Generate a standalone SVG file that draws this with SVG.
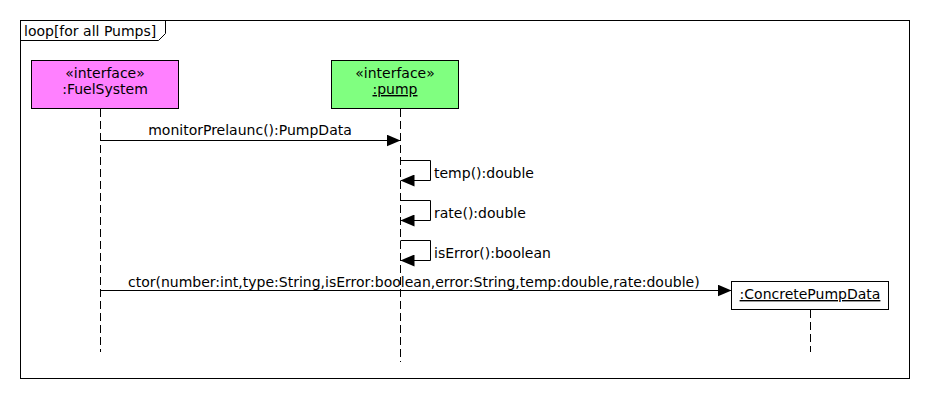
<svg xmlns="http://www.w3.org/2000/svg" width="930" height="400" viewBox="0 0 930 400">
<style>
text{font-family:"DejaVu Sans",sans-serif;font-size:14px;fill:#000}
.c{text-anchor:middle}
.box{stroke:#000;stroke-width:1}
.life{stroke:#000;stroke-width:1;stroke-dasharray:8,4;fill:none}
.msg{stroke:#000;stroke-width:1;fill:none}
</style>
<defs>
<marker id="ah" viewBox="0 0 14 12" refX="14" refY="6" markerWidth="14" markerHeight="12" markerUnits="userSpaceOnUse" orient="auto">
<path d="M0,0 L14,6 L0,12 Z" fill="#000"/>
</marker>
</defs>
<rect width="930" height="400" fill="#fff"/>
<g id="frame">
<rect x="20.5" y="20.5" width="889" height="358" fill="none" stroke="#000"/>
<path d="M20.5,40.5 H158.5 L165.5,33.5 V20.5" fill="none" stroke="#000"/>
<text x="24" y="36">loop[for all Pumps]</text>
</g>
<g id="fuelsystem">
<rect class="box" x="31.5" y="60.5" width="147" height="48" fill="#ff80ff"/>
<text class="c" x="105" y="78">«interface»</text>
<text class="c" x="105" y="94">:FuelSystem</text>
<line class="life" x1="100.5" y1="109" x2="100.5" y2="352"/>
</g>
<g id="pump">
<rect class="box" x="331.5" y="60.5" width="127" height="48" fill="#80ff80"/>
<text class="c" x="395" y="78">«interface»</text>
<text class="c" x="395" y="94" text-decoration="underline">:pump</text>
<line class="life" x1="400.5" y1="109" x2="400.5" y2="362"/>
</g>
<g id="concretepumpdata">
<rect class="box" x="731.5" y="281.5" width="157" height="28" fill="#fff"/>
<text class="c" x="810" y="299" text-decoration="underline">:ConcretePumpData</text>
<line class="life" x1="810.5" y1="310" x2="810.5" y2="352"/>
</g>
<g id="connectors">
<line class="msg" x1="100.5" y1="140.5" x2="400.5" y2="140.5" marker-end="url(#ah)"/>
<text class="c" x="250" y="135">monitorPrelaunc():PumpData</text>
<path class="msg" d="M400.5,160.5 H430.5 V180.5 H400.5" marker-end="url(#ah)"/>
<text x="434" y="178">temp():double</text>
<path class="msg" d="M400.5,200.5 H430.5 V220.5 H400.5" marker-end="url(#ah)"/>
<text x="434" y="218">rate():double</text>
<path class="msg" d="M400.5,240.5 H430.5 V260.5 H400.5" marker-end="url(#ah)"/>
<text x="434" y="258">isError():boolean</text>
<line class="msg" x1="100.5" y1="290.5" x2="731.5" y2="290.5" marker-end="url(#ah)"/>
<text x="128" y="287">ctor(number:int,type:String,isError:boolean,error:String,temp:double,rate:double)</text>
</g>
</svg>
